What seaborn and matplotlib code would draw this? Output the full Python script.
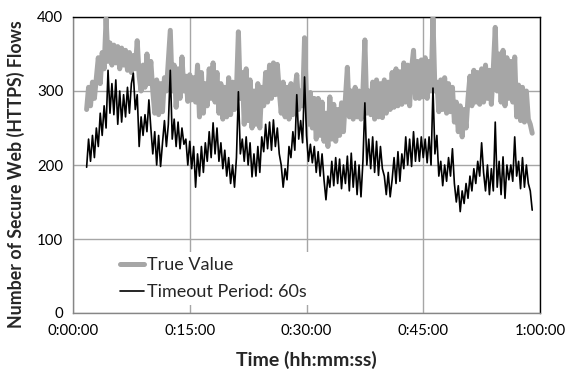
import numpy as np
import pandas as pd
import matplotlib
matplotlib.use("Agg")
import matplotlib.pyplot as plt
import seaborn as sns

# ---- data (minutes from start; one reading every 0.25 min starting at 1.75 min) ----
t_start = 1.75
t_step = 0.25

true_value = [
    275,
    305, 280, 312, 290,
    318, 345, 310, 352,
    330, 398, 340, 365,
    335, 362, 338, 360,
    330, 358, 335, 355,
    328, 352, 325, 348,
    330, 368, 320, 300,
    335, 305, 350, 310,
    340, 300, 270, 315,
    268, 310, 272, 318,
    300, 340, 382, 300,
    335, 278, 330, 290,
    346, 300, 320, 286,
    322, 288, 318, 285,
    335, 265, 325, 270,
    310, 280, 330, 290,
    338, 285, 325, 270,
    310, 262, 305, 265,
    318, 268, 312, 275,
    300, 380, 290, 325,
    255, 330, 260, 315,
    250, 300, 255, 310,
    250, 305, 280, 325,
    285, 335, 290, 338,
    295, 336, 300, 270,
    312, 265, 305, 262,
    310, 268, 300, 322,
    275, 300, 280, 372,
    285, 255, 298, 250,
    290, 235, 290, 240,
    285, 232, 270, 225,
    292, 235, 282, 232,
    275, 240, 284, 245,
    290, 332, 265, 300,
    262, 305, 265, 300,
    262, 300, 369, 270,
    300, 268, 312, 262,
    315, 265, 310, 264,
    315, 270, 312, 275,
    325, 278, 330, 280,
    326, 282, 338, 285,
    335, 280, 330, 355,
    290, 340, 290, 342,
    292, 345, 290, 340,
    300, 399, 300, 312,
    272, 315, 275, 318,
    270, 310, 272, 305,
    258, 285, 245, 280,
    238, 275, 250, 290,
    320, 280, 328, 285,
    325, 282, 330, 285,
    335, 290, 328, 282,
    330, 386, 300, 350,
    285, 355, 280, 345,
    290, 340, 285, 346,
    265, 308, 260, 305,
    258, 300, 262, 255,
    243,
]

timeout_60s = [
    197,
    235, 205, 240, 210,
    250, 225, 270, 240,
    280, 250, 328, 270,
    310, 268, 315, 255,
    300, 258, 295, 265,
    305, 270, 310, 324,
    275, 295, 225, 265,
    240, 268, 245, 288,
    250, 215, 245, 200,
    240, 198, 230, 260,
    225, 255, 328, 235,
    262, 225, 258, 222,
    250, 228, 235, 200,
    232, 195, 225, 170,
    215, 185, 225, 190,
    230, 205, 245, 210,
    257, 215, 250, 205,
    230, 195, 220, 185,
    210, 175, 200, 170,
    210, 299, 215, 235,
    205, 238, 200, 230,
    184, 215, 185, 225,
    190, 238, 218, 255,
    222, 258, 220, 261,
    225, 250, 215, 200,
    170, 195, 180, 225,
    210, 245, 220, 295,
    235, 260, 230, 319,
    240, 205, 228, 203,
    225, 190, 218, 185,
    215, 180, 153, 185,
    170, 205, 172, 210,
    175, 208, 168, 200,
    175, 212, 165, 216,
    170, 205, 160, 200,
    157, 205, 284, 200,
    235, 195, 238, 190,
    232, 186, 225, 195,
    185, 160, 190, 157,
    180, 210, 175, 218,
    178, 215, 195, 238,
    200, 235, 198, 245,
    205, 236, 205, 238,
    210, 235, 203, 238,
    200, 304, 215, 240,
    185, 205, 172, 200,
    178, 210, 185, 222,
    175, 150, 172, 137,
    165, 148, 175, 155,
    185, 165, 195, 175,
    205, 185, 230, 190,
    165, 200, 160, 195,
    165, 258, 170, 205,
    160, 211, 155, 200,
    180, 200, 178, 238,
    185, 205, 168, 210,
    170, 200, 175, 165,
    139,
]

series_names = ["True Value", "Timeout Period: 60s"]
x_ticks = [0, 15, 30, 45, 60]
x_tick_labels = ["0:00:00", "0:15:00", "0:30:00", "0:45:00", "1:00:00"]
y_ticks = [0, 100, 200, 300, 400]

minutes = t_start + t_step * np.arange(len(true_value))
df_true = pd.DataFrame({"t": minutes, "v": true_value, "series": series_names[0]})
df_to = pd.DataFrame({"t": t_start + t_step * np.arange(len(timeout_60s)),
                      "v": timeout_60s, "series": series_names[1]})

# ---- style ----
sns.set_style("white")
plt.rcParams["font.family"] = ["Lato", "DejaVu Sans"]

fig = plt.figure(figsize=(5.69, 3.71), dpi=100)
ax = fig.add_axes([73 / 569, 1 - 313 / 371, 467 / 569, 296 / 371])

grid_c = "#A6A6A6"
sns.lineplot(data=df_true, x="t", y="v", ax=ax, color="#A6A6A6", linewidth=3.6,
             label=series_names[0], zorder=3)
sns.lineplot(data=df_to, x="t", y="v", ax=ax, color="black", linewidth=1.2,
             label=series_names[1], zorder=4)

ax.set_xlim(0, 60)
ax.set_ylim(0, 400)
ax.set_xticks(x_ticks)
ax.set_xticklabels(x_tick_labels)
ax.set_yticks(y_ticks)
ax.grid(True, color=grid_c, linewidth=1.0, zorder=0)
ax.set_axisbelow(True)

for s in ["left", "bottom"]:
    ax.spines[s].set_color("#868686")
    ax.spines[s].set_linewidth(1.0)
for s in ["top", "right"]:
    ax.spines[s].set_color("black")
    ax.spines[s].set_linewidth(1.0)
ax.tick_params(axis="both", direction="out", length=4, width=1, color="#868686",
               labelsize=10.8, labelcolor="black", pad=3)
ax.tick_params(axis="x", length=5, pad=3)

ax.set_xlabel("Time (hh:mm:ss)", fontsize=14, fontweight="bold", labelpad=9)
ax.set_ylabel("Number of Secure Web (HTTPS) Flows", fontsize=12.8,
              fontweight="bold", labelpad=6)
ax.yaxis.set_label_coords(-0.103, 0.47)

leg = ax.legend(loc="lower left", bbox_to_anchor=(0.07, -0.005), frameon=True,
                fancybox=False, framealpha=1, facecolor="white", edgecolor="none",
                fontsize=13, handlelength=1.3, handletextpad=0.2, labelspacing=0.6,
                borderpad=0.3)
leg.set_zorder(5)

fig.savefig("out.png", dpi=100)
